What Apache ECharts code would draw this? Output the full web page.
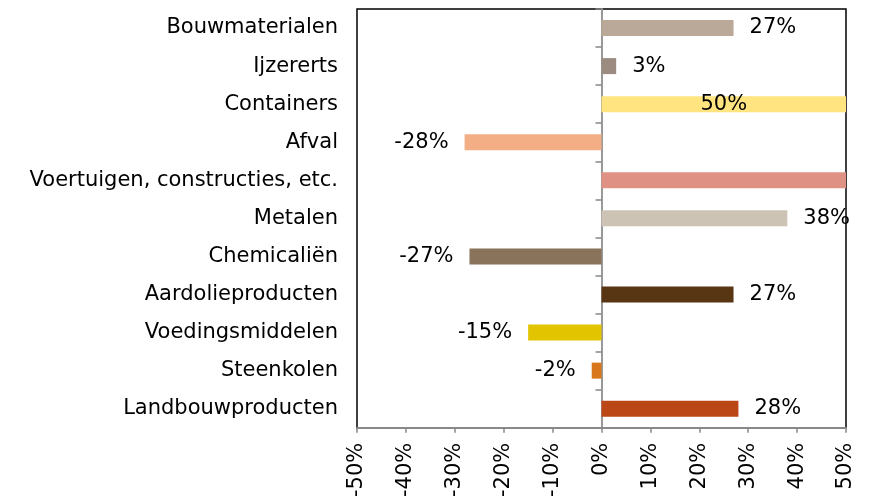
<!DOCTYPE html>
<html>
<head>
<meta charset="utf-8">
<script src="https://cdn.jsdelivr.net/npm/echarts@6/dist/echarts.min.js"></script>
<style>
  html, body { margin: 0; padding: 0; background: #fff; }
  #main { width: 870px; height: 500px; }
</style>
</head>
<body>
<div id="main"></div>
<script>
// categorieen (van onder naar boven)
var categories = ['Landbouwproducten', 'Steenkolen', 'Voedingsmiddelen', 'Aardolieproducten',
    'Chemicaliën', 'Metalen', 'Voertuigen, constructies, etc.', 'Afval', 'Containers',
    'Ijzererts', 'Bouwmaterialen'];
// procentuele verandering
var values = [28, -2, -15, 27, -27, 38, 55, -28, 50, 3, 27];
// kleuren per categorie
var colors = ['#BC4716', '#D7761A', '#E2C500', '#583614', '#8A735B', '#CDC3B4',
    '#DF9284', '#F3AE85', '#FFE480', '#9B8B80', '#BAA898'];
// as
var xMin = -50, xMax = 50, xStep = 10;

var font = 'DejaVu Sans';

var myChart = echarts.init(document.getElementById('main'));

var barData = [];
for (var i = 0; i < values.length; i++) {
    var v = values[i];
    var pos = v < 0 ? 'left' : 'right';
    var showLabel = true;
    if (v == xMax) pos = 'inside';
    if (v > xMax) showLabel = false;
    barData.push({
        value: v,
        itemStyle: { color: colors[i] },
        label: { show: showLabel, position: pos }
    });
}

var option = {
    animation: false,
    grid: {
        left: 357, right: 24, top: 9, bottom: 72,
        show: true, borderColor: '#000', borderWidth: 1.5, backgroundColor: 'transparent'
    },
    xAxis: {
        type: 'value', min: xMin, max: xMax, interval: xStep,
        splitLine: { show: false },
        axisLine: { show: true, lineStyle: { color: '#888', width: 2 } },
        axisTick: { show: true, length: 5, lineStyle: { color: '#888', width: 1.5 } },
        axisLabel: {
            rotate: 90, margin: 15, color: '#000', fontFamily: font, fontSize: 21,
            formatter: '{value}%'
        }
    },
    yAxis: [
        {
            type: 'category', data: categories, position: 'left',
            axisLine: { show: false, onZero: false },
            axisTick: { show: false },
            axisLabel: { margin: 19, color: '#000', fontFamily: font, fontSize: 21 }
        },
        {
            type: 'category', data: categories, position: 'left',
            axisLine: { show: true, onZero: true, lineStyle: { color: '#999', width: 2 } },
            axisTick: { show: true, length: 6, lineStyle: { color: '#888', width: 1.5 } },
            axisLabel: { show: false }
        }
    ],
    series: [{
        type: 'bar',
        yAxisIndex: 0,
        barWidth: 16,
        clip: true,
        data: barData,
        label: {
            distance: 16, color: '#000', fontFamily: font, fontSize: 21,
            formatter: '{c}%'
        }
    }]
};

myChart.setOption(option);
</script>
</body>
</html>
